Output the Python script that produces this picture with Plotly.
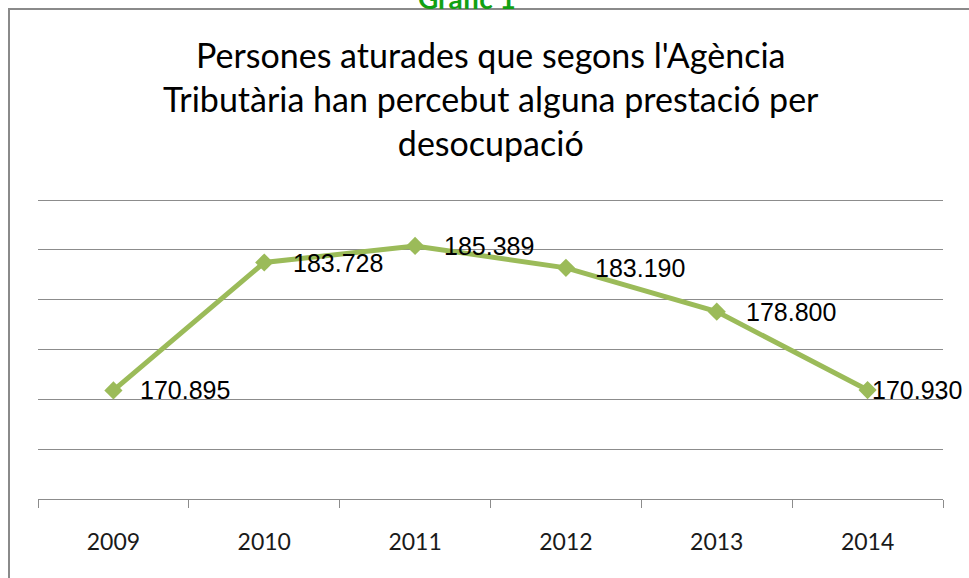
import plotly.graph_objects as go

years = ["2009", "2010", "2011", "2012", "2013", "2014"]
values = [170895, 183728, 185389, 183190, 178800, 170930]
labels = ["170.895", "183.728", "185.389", "183.190", "178.800", "170.930"]
grid_vals = [165000, 170000, 175000, 180000, 185000, 190000]
title_text = "Persones aturades que segons l'Agència<br>Tributària han percebut alguna prestació per<br>desocupació"

GREEN = "#9BBB59"
GRID = "#8C8C8C"

L, R, T, B = 38, 26, 196, 79
W, H = 969, 578
pw, ph = W - L - R, H - T - B
Y0 = 160000
Y1 = Y0 + 30000 * ph / 299.0

def px_x(x):
    return (x - L) / pw

def px_y(y):
    return (H - B - y) / ph

fig = go.Figure()
fig.add_trace(go.Scatter(
    x=years, y=values, mode="lines+markers",
    line=dict(color=GREEN, width=5),
    marker=dict(symbol="diamond", size=14, color=GREEN),
    hoverinfo="skip", showlegend=False,
))

label_xshift = [25, 27, 27, 27, 27, 2]
for i, (v, t, xs) in enumerate(zip(values, labels, label_xshift)):
    fig.add_annotation(x=i, y=v, text=t, showarrow=False, xanchor="left",
                       yanchor="middle", xshift=xs, yshift=0,
                       font=dict(family="Liberation Sans", size=25, color="#000000"))

fig.add_annotation(xref="paper", yref="paper", x=0.5, y=px_y(32), yanchor="top",
                   xanchor="center", text=title_text, showarrow=False,
                   font=dict(family="Lato", size=34, color="#000000"))

fig.add_annotation(xref="paper", yref="paper", x=px_x(467), y=px_y(17), yanchor="bottom",
                   xanchor="center", text="<b>Gràfic 1</b>", showarrow=False,
                   font=dict(family="Lato", size=28, color="#12A012"))

fig.add_shape(type="rect", xref="paper", yref="paper",
              x0=px_x(9), x1=px_x(990), y0=px_y(600), y1=px_y(9),
              line=dict(color="#8A8A8A", width=2), layer="below")

fig.update_layout(
    width=W, height=H,
    margin=dict(l=L, r=R, t=T, b=B),
    paper_bgcolor="white", plot_bgcolor="white",
    xaxis=dict(type="category", tickson="boundaries", ticks="outside", ticklen=8,
               tickcolor=GRID, showline=True, linecolor=GRID, linewidth=1,
               showgrid=False, range=[-0.5, 5.5], ticklabelstandoff=22,
               tickfont=dict(family="Lato", size=23, color="#1A1A1A")),
    yaxis=dict(range=[Y0, Y1], tickvals=grid_vals,
               showgrid=True, gridcolor=GRID,
               gridwidth=1, showticklabels=False, zeroline=False, showline=False),
)

fig.write_html("out.html", config={"displayModeBar": False},
               post_script="document.body.style.margin='0';document.body.style.overflow='hidden';")
